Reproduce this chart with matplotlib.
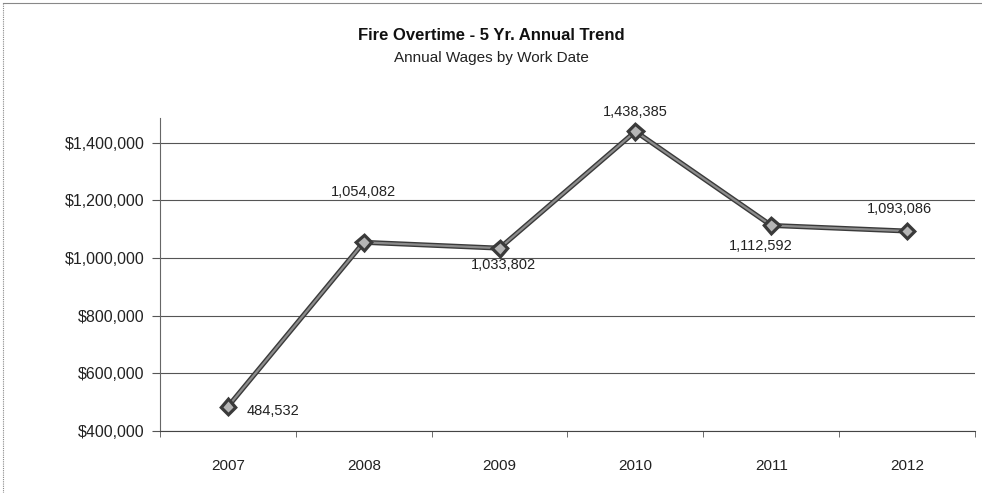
import matplotlib
matplotlib.use("Agg")
import matplotlib.pyplot as plt
from matplotlib.lines import Line2D
import matplotlib.patheffects as pe
from matplotlib.ticker import FuncFormatter, FixedLocator

plt.rcParams['font.family'] = ['Liberation Sans', 'DejaVu Sans']

years = ['2007', '2008', '2009', '2010', '2011', '2012']
wages = [484532, 1054082, 1033802, 1438385, 1112592, 1093086]
y_ticks = [400000, 600000, 800000, 1000000, 1200000, 1400000]
# label offsets in pixels (dx, dy) relative to each point
label_offsets = [(45, -4), (0, 50), (4, -17), (0, 19), (-10, -21), (-8, 22)]

fig = plt.figure(figsize=(9.82, 4.93), dpi=100)
ax = fig.add_axes([160 / 982, 1 - 431 / 493, 815 / 982, (431 - 118) / 493])

x = list(range(len(years)))
ax.plot(x, wages, color='#8c8c8c', lw=1.6, marker='D', markersize=6.5,
        markerfacecolor='#b5b5b5', markeredgecolor='#3a3a3a', markeredgewidth=1.0,
        path_effects=[pe.Stroke(linewidth=3.6, foreground='#3a3a3a'), pe.Normal()],
        zorder=3)

for xi, v, (dx, dy) in zip(x, wages, label_offsets):
    ax.annotate(f'{v:,}', (xi, v), xytext=(dx, dy), textcoords='offset pixels',
                ha='center', va='center', fontsize=10.5, color='#222222')

ax.set_xlim(-0.5, len(years) - 0.5)
ax.set_ylim(400000, 1485000)
ax.yaxis.set_major_locator(FixedLocator(y_ticks))
ax.yaxis.set_major_formatter(FuncFormatter(lambda v, p: f'${v:,.0f}'))
ax.grid(axis='y', color='#555555', lw=0.8)
ax.set_axisbelow(True)

ax.set_xticks(x)
ax.set_xticklabels(years)
ax.set_xticks([i - 0.5 for i in range(len(years) + 1)], minor=True)
ax.tick_params(axis='x', which='major', length=0, pad=20, labelsize=11, colors='#222222')
ax.tick_params(axis='x', which='minor', length=4, direction='out', color='#555555')
ax.tick_params(axis='y', length=6, direction='out', labelsize=11.5, colors='#222222', pad=5)
ax.tick_params(axis='y', color='#555555')

for s in ['top', 'right']:
    ax.spines[s].set_visible(False)
ax.spines['left'].set_color('#666666')
ax.spines['bottom'].set_color('#444444')

fig.text(491 / 982, 1 - 36 / 493, 'Fire Overtime - 5 Yr. Annual Trend', ha='center', va='center',
         fontsize=12, fontweight='bold', color='#111111')
fig.text(491 / 982, 1 - 58 / 493, 'Annual Wages by Work Date', ha='center', va='center',
         fontsize=11, color='#222222')

# chart frame
fig.add_artist(Line2D([3 / 982, 3 / 982], [0, 1 - 3 / 493], transform=fig.transFigure,
                      color='#888888', lw=0.8, ls=(0, (1, 1))))
fig.add_artist(Line2D([3 / 982, 1], [1 - 3 / 493, 1 - 3 / 493], transform=fig.transFigure,
                      color='#888888', lw=0.8))

fig.savefig('out.png', dpi=100)
